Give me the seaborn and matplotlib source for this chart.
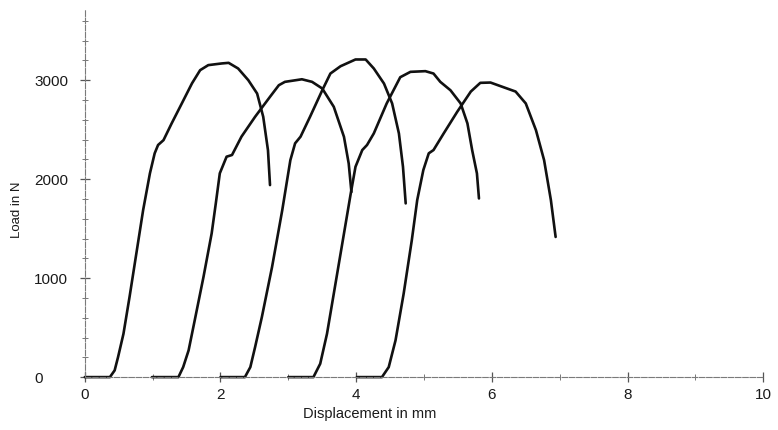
import matplotlib
matplotlib.use("Agg")
import matplotlib.pyplot as plt
from matplotlib.ticker import MultipleLocator
import seaborn as sns
import pandas as pd

# Load-displacement records of five specimens (displacement in mm, load in N)
spec1_x = [0.00, 0.37, 0.44, 0.49, 0.57, 0.66, 0.76, 0.86, 0.96, 1.03, 1.08, 1.16, 1.28, 1.43,
           1.58, 1.70, 1.82, 2.02, 2.12, 2.26, 2.41, 2.54, 2.63, 2.70, 2.73]
spec1_y = [0, 0, 68, 202, 438, 812, 1250, 1688, 2059, 2261, 2345, 2394, 2563, 2765,
           2968, 3101, 3152, 3169, 3175, 3118, 3000, 2865, 2630, 2292, 1940]

spec2_x = [0.99, 1.38, 1.45, 1.53, 1.62, 1.75, 1.87, 1.93, 1.99, 2.09, 2.17, 2.31, 2.51, 2.73,
           2.86, 2.95, 3.20, 3.35, 3.50, 3.67, 3.82, 3.89, 3.93]
spec2_y = [0, 0, 101, 270, 573, 1014, 1452, 1750, 2059, 2227, 2244, 2430, 2630, 2832,
           2949, 2983, 3009, 2983, 2916, 2731, 2428, 2158, 1870]

spec3_x = [2.00, 2.36, 2.44, 2.51, 2.61, 2.76, 2.91, 3.03, 3.10, 3.18, 3.32, 3.50, 3.62, 3.77,
           3.99, 4.14, 4.26, 4.41, 4.53, 4.63, 4.69, 4.73]
spec3_y = [0, 0, 101, 303, 607, 1112, 1685, 2192, 2362, 2429, 2630, 2898, 3067, 3141,
           3209, 3209, 3118, 2966, 2765, 2462, 2125, 1755]

spec4_x = [3.00, 3.37, 3.47, 3.57, 3.72, 3.87, 3.92, 3.99, 4.09, 4.16, 4.26, 4.45, 4.65, 4.80,
           5.02, 5.14, 5.24, 5.39, 5.54, 5.64, 5.71, 5.78, 5.81]
spec4_y = [0, 0, 135, 438, 1045, 1652, 1855, 2125, 2294, 2345, 2462, 2765, 3030, 3084,
           3091, 3067, 2983, 2898, 2765, 2563, 2292, 2058, 1805]

spec5_x = [4.01, 4.38, 4.48, 4.58, 4.70, 4.82, 4.90, 4.99, 5.07, 5.14, 5.29, 5.49, 5.69, 5.83,
           5.98, 6.13, 6.35, 6.50, 6.65, 6.77, 6.87, 6.94]
spec5_y = [0, 0, 101, 371, 843, 1383, 1789, 2092, 2261, 2294, 2462, 2681, 2885, 2973,
           2976, 2939, 2885, 2765, 2495, 2192, 1789, 1416]

specimens = ["1", "2", "3", "4", "5"]
series_x = [spec1_x, spec2_x, spec3_x, spec4_x, spec5_x]
series_y = [spec1_y, spec2_y, spec3_y, spec4_y, spec5_y]

x_ticks = [0, 2, 4, 6, 8, 10]
y_ticks = [0, 1000, 2000, 3000]

rows = []
for name, xs, ys in zip(specimens, series_x, series_y):
    for i, (xv, yv) in enumerate(zip(xs, ys)):
        rows.append({"specimen": name, "order": i, "disp": xv, "load": yv})
df = pd.DataFrame(rows)

sns.set_theme(style="white")
plt.rcParams["font.family"] = ["Liberation Sans", "DejaVu Sans"]

fig = plt.figure(figsize=(7.78, 4.30), dpi=100)
ax = fig.add_axes([0.109, 0.123, 0.872, 0.854])

sns.lineplot(data=df, x="disp", y="load", hue="specimen", units="specimen",
             estimator=None, sort=False, palette=["#111111"] * 5,
             linewidth=1.9, legend=False, ax=ax)
for line in ax.lines:
    line.set_clip_on(False)
    line.set_solid_joinstyle("round")
    line.set_solid_capstyle("round")

ax.set_xlim(0, 10)
ax.set_ylim(0, 3710)
ax.set_xticks(x_ticks)
ax.set_yticks(y_ticks)
ax.xaxis.set_minor_locator(MultipleLocator(1))
ax.yaxis.set_minor_locator(MultipleLocator(200))

for side in ("top", "right"):
    ax.spines[side].set_visible(False)
for side in ("left", "bottom"):
    ax.spines[side].set_color("#7a7a7a")
    ax.spines[side].set_linewidth(0.8)
    ax.spines[side].set_linestyle((0, (5, 1.5)))

ax.tick_params(axis="both", which="major", direction="inout", length=7, width=0.9,
               color="#555555", labelsize=11, labelcolor="#1a1a1a")
ax.tick_params(axis="both", which="minor", direction="inout", length=5, width=0.7,
               color="#777777")
# y tick labels are left-aligned in a column left of the axis
ax.tick_params(axis="y", which="major", pad=33)
for lbl in ax.get_yticklabels():
    lbl.set_horizontalalignment("left")
ax.tick_params(axis="x", which="major", pad=4)
ax.tick_params(axis="both", which="both", bottom=True, left=True)

ax.set_xlabel("Displacement in mm", fontsize=10.5, color="#1a1a1a")
ax.set_ylabel("Load in N", fontsize=9.5, color="#1a1a1a")
ax.xaxis.set_label_coords(0.42, -0.081)
ax.yaxis.set_label_coords(-0.091, 0.455)

fig.savefig("out.png", dpi=100, facecolor="white")
